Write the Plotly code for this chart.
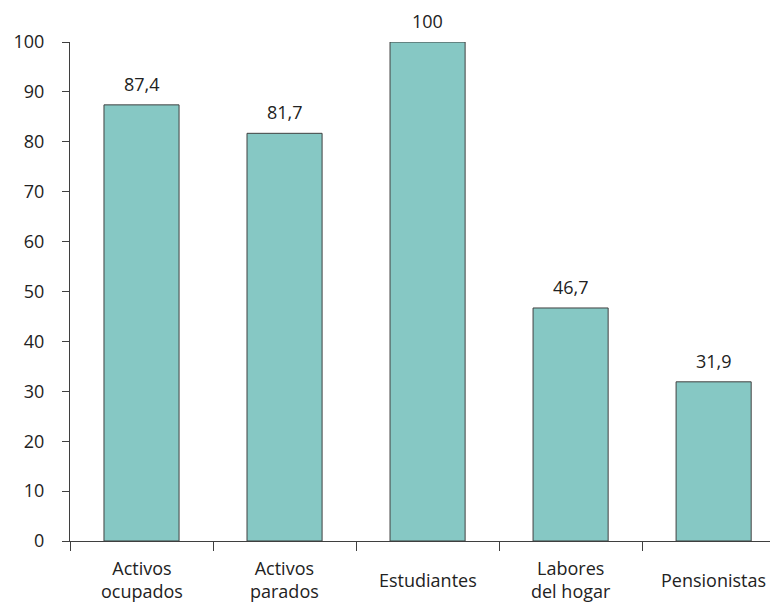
import plotly.graph_objects as go

## Data
categorias = ["Activos<br>ocupados", "Activos<br>parados", "Estudiantes", "Labores<br>del hogar", "Pensionistas"]
valores = [87.4, 81.7, 100, 46.7, 31.9]
etiquetas = [f"{v:g}".replace(".", ",") for v in valores]  # decimal comma

y_ticks = list(range(0, 101, 10))

fuente = "Open Sans, sans-serif"
gris = "#3f3f3f"
texto = "#222222"

## Plotting
fig = go.Figure()
fig.add_trace(go.Bar(
    x=list(range(len(categorias))), y=valores,
    width=0.525,
    marker=dict(color="#86c8c4", line=dict(color="#404040", width=1)),
    cliponaxis=False,
))

# value labels above the bars
for i, (v, t) in enumerate(zip(valores, etiquetas)):
    fig.add_annotation(
        x=i, y=v, xref="x", yref="y", text=t, showarrow=False,
        yanchor="bottom", yshift=7,
        font=dict(size=18, color=texto, family=fuente),
    )

# category labels, vertically centred like the original
for i, c in enumerate(categorias):
    fig.add_annotation(
        x=i, y=-0.078, xref="x", yref="paper",
        text=c, showarrow=False, yanchor="middle",
        font=dict(size=18, color=texto, family=fuente),
    )

# page body adds an 8px offset, so the figure is 8px smaller
fig.update_layout(
    width=770, height=595,
    margin=dict(l=62, r=0, t=34, b=62),
    plot_bgcolor="white", paper_bgcolor="white",
    showlegend=False,
    font=dict(family=fuente, size=18, color=texto),
)
fig.update_xaxes(
    range=[-0.5, 4.45],
    tickmode="array", tickvals=[-0.5, 0.5, 1.5, 2.5, 3.5], ticktext=[""] * 5,
    ticks="outside", ticklen=9, tickcolor=gris,
    showline=True, linecolor=gris, linewidth=1.2,
    showgrid=False, zeroline=False,
)
fig.update_yaxes(
    range=[0, 100],
    tickmode="array", tickvals=y_ticks,
    ticks="outside", ticklen=7, tickcolor=gris,
    showline=True, linecolor=gris, linewidth=1.2,
    showgrid=False, zeroline=False,
    tickfont=dict(size=18, color=texto),
    ticklabelstandoff=14,
)

fig.write_html("out.html")
